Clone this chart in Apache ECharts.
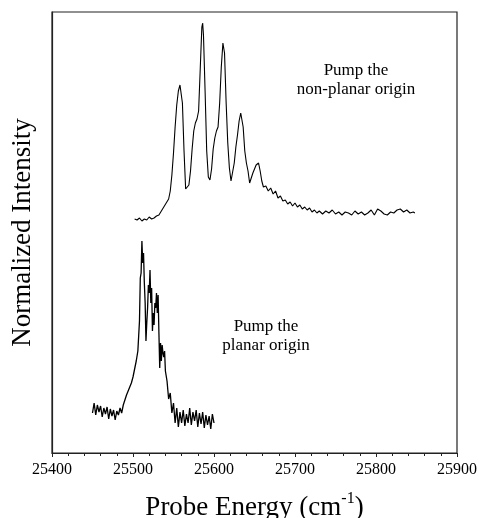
<!DOCTYPE html>
<html><head><meta charset="utf-8">
<script src="https://cdn.jsdelivr.net/npm/echarts@6/dist/echarts.min.js"></script>
<style>html,body{margin:0;padding:0;background:#fff}#c{width:479px;height:518px}</style>
</head><body><div id="c"></div>
<script>
// Pump the planar origin (lower trace): [energy cm-1, intensity]
const planarX = [25450,25452,25454,25456,25458,25460,25462,25464,25466,25468,25470,25472,25474,25476,25478,25480,25482,25484,25486,25488,25490,25492,25494,25496,25498,25500,25502,25504,25506,25508,25509,25510,25511,25512,25513,25514,25515,25516,25517,25518,25519,25520,25521,25522,25523,25524,25525,25526,25527,25528,25529,25530,25531,25532,25533,25534,25535,25536,25537,25538,25539,25540,25542,25544,25546,25548,25550,25552,25554,25556,25558,25560,25562,25564,25566,25568,25570,25572,25574,25576,25578,25580,25582,25584,25586,25588,25590,25592,25594,25596,25598,25600];
const planarY = [40,50,38,48,41,47,36,45,39,46,34,44,37,43,33,42,38,45,40,48,50,58,56,66,70,76,84,92,102,132,175,180,212,190,200,170,150,112,130,145,168,160,183,150,165,122,140,128,150,145,160,140,158,120,85,110,92,108,100,96,102,82,72,54,60,40,50,30,45,26,41,30,43,27,39,30,45,28,41,32,43,26,40,29,41,25,38,28,37,24,39,30];
// Pump the non-planar origin (upper trace)
const nonPlanarX = [25502,25505,25508,25511,25514,25517,25520,25523,25526,25529,25532,25535,25538,25541,25544,25546,25548,25550,25552,25554,25556,25558,25559,25560,25561,25563,25565,25567,25569,25571,25573,25575,25577,25579,25581,25583,25585,25586,25587,25589,25591,25593,25595,25597,25599,25601,25603,25605,25607,25609,25611,25612,25613,25615,25617,25619,25621,25623,25625,25627,25629,25631,25633,25634,25636,25638,25640,25642,25644,25646,25648,25650,25652,25655,25657,25659,25661,25664,25667,25670,25673,25676,25679,25682,25685,25688,25691,25694,25697,25700,25703,25706,25709,25712,25715,25718,25721,25724,25727,25730,25734,25738,25742,25746,25750,25754,25758,25762,25766,25770,25774,25778,25782,25786,25790,25794,25798,25802,25806,25810,25814,25818,25822,25826,25830,25834,25838,25842,25846,25848];
const nonPlanarY = [234,233,235,232,234,233,236,234,235,237,238,242,246,250,254,262,278,300,326,348,362,368,370,366,350,302,264,262,268,282,304,322,330,334,342,384,426,430,418,362,302,276,273,284,304,315,322,326,350,386,410,412,400,350,310,285,272,274,290,306,318,332,340,341,326,302,290,282,270,270,280,284,288,290,282,272,266,267,262,265,259,262,255,257,252,253,249,251,247,250,246,248,244,246,243,245,241,243,240,242,239,242,240,243,239,241,238,241,240,238,242,239,241,238,240,243,238,244,242,239,238,241,240,243,244,241,243,240,241,240];
const xTicks = [25400,25500,25600,25700,25800,25900];

const toPairs = (xs, ys) => xs.map((x, i) => [x, ys[i]]);
const serif = 'Liberation Serif';
const chart = echarts.init(document.getElementById('c'), null, {renderer: 'canvas'});
chart.setOption({
  animation: false,
  backgroundColor: '#fff',
  grid: {left: 52, right: 22, top: 12, bottom: 65, outerBoundsMode: 'none', containLabel: false,
         show: true, borderColor: '#222', borderWidth: 1.2, backgroundColor: 'transparent'},
  xAxis: {
    type: 'value', min: xTicks[0], max: xTicks[xTicks.length - 1], interval: 100,
    axisLine: {show: true, onZero: false, lineStyle: {color: '#222', width: 1.2}},
    axisTick: {show: true, inside: false, length: 4, lineStyle: {color: '#222'}},
    minorTick: {show: true, splitNumber: 5, length: 3, lineStyle: {color: '#222'}},
    splitLine: {show: false},
    axisLabel: {color: '#000', fontFamily: serif, fontSize: 16, margin: 9, formatter: v => String(v)},
    name: '{a|Probe Energy (cm}{s|-1}{a|)}',
    nameLocation: 'middle', nameGap: 38,
    nameTextStyle: {rich: {
      a: {fontFamily: serif, fontSize: 27, color: '#000', verticalAlign: 'bottom'},
      s: {fontFamily: serif, fontSize: 16, color: '#000', verticalAlign: 'top', padding: [0, 0, 14, 0]}
    }}
  },
  yAxis: {
    type: 'value', min: 0, max: 441,
    axisLine: {show: true, lineStyle: {color: '#222', width: 1.2}},
    axisTick: {show: false}, axisLabel: {show: false}, splitLine: {show: false},
    name: 'Normalized Intensity', nameLocation: 'middle', nameGap: 16,
    nameTextStyle: {fontFamily: serif, fontSize: 27, color: '#000'}
  },
  series: [
    {type: 'line', data: toPairs(planarX, planarY), showSymbol: false, lineStyle: {color: '#000', width: 1.3}},
    {type: 'line', data: toPairs(nonPlanarX, nonPlanarY), showSymbol: false, lineStyle: {color: '#000', width: 1.1}}
  ],
  graphic: [
    {type: 'text', x: 356, y: 80, style: {text: 'Pump the\nnon-planar origin', fontFamily: serif, fontSize: 17, fill: '#000', align: 'center', verticalAlign: 'middle', lineHeight: 19}},
    {type: 'text', x: 266, y: 336, style: {text: 'Pump the\nplanar origin', fontFamily: serif, fontSize: 17, fill: '#000', align: 'center', verticalAlign: 'middle', lineHeight: 19}}
  ]
});
</script></body></html>
